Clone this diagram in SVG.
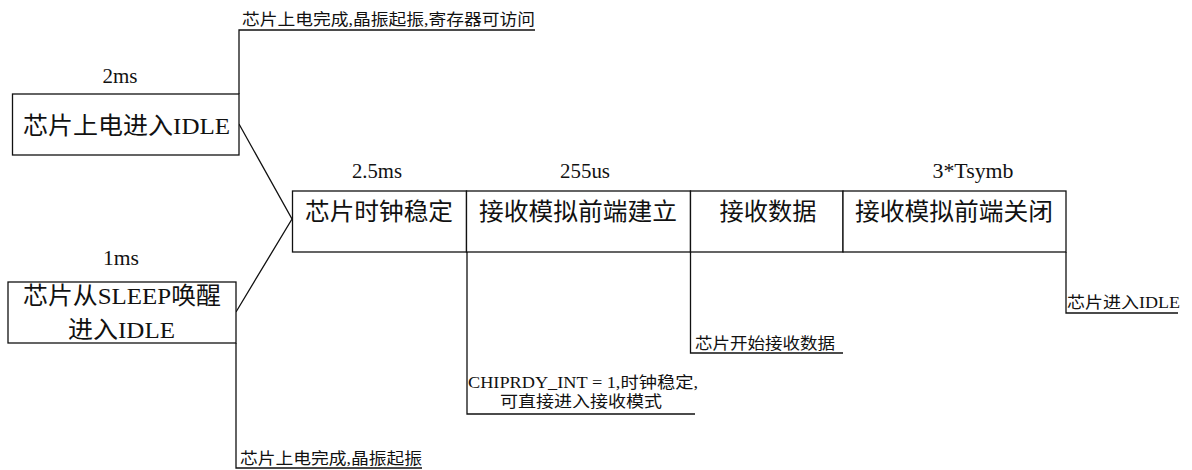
<svg xmlns="http://www.w3.org/2000/svg" width="1192" height="470" viewBox="0 0 1192 470">
<style>
text{font-family:"Liberation Serif","Noto Sans CJK SC",serif;fill:#111;}
.big{font-size:24px;}
.lab{font-size:20px;}
.sm{font-size:16px;}
.box{fill:#fff;stroke:#111;stroke-width:1.3;}
.ln{fill:none;stroke:#111;stroke-width:1.3;}
</style>
<rect width="1192" height="470" fill="#fff"/>
<g id="connectors">
<path class="ln" d="M239,124 L292,219 L236,312"/>
<path class="ln" d="M239,94 V30 H535"/>
<path class="ln" d="M236,343 V468 H422"/>
<path class="ln" d="M467,252 V414 H695"/>
<path class="ln" d="M690.5,252 V353 H843"/>
<path class="ln" d="M1066,252 V313 H1178"/>
</g>
<g id="power-on">
<rect class="box" x="12.5" y="94" width="226.5" height="61"/>
<text class="lab" x="120" y="83" text-anchor="middle" textLength="35" lengthAdjust="spacingAndGlyphs">2ms</text>
<text class="big" x="23" y="134" textLength="207" lengthAdjust="spacingAndGlyphs">芯片上电进入IDLE</text>
</g>
<g id="sleep-wake">
<rect class="box" x="8" y="282" width="228" height="61"/>
<text class="lab" x="121" y="265" text-anchor="middle" textLength="36" lengthAdjust="spacingAndGlyphs">1ms</text>
<text class="big" x="23" y="304" textLength="198" lengthAdjust="spacingAndGlyphs">芯片从SLEEP唤醒</text>
<text class="big" x="68" y="338" textLength="107" lengthAdjust="spacingAndGlyphs">进入IDLE</text>
</g>
<g id="clock-stable">
<rect class="box" x="292.5" y="191" width="174" height="61"/>
<text class="lab" x="377" y="178" text-anchor="middle" textLength="50" lengthAdjust="spacingAndGlyphs">2.5ms</text>
<text class="big" x="379" y="220" text-anchor="middle" textLength="148" lengthAdjust="spacingAndGlyphs">芯片时钟稳定</text>
</g>
<g id="rx-frontend-setup">
<rect class="box" x="466.5" y="191" width="224" height="61"/>
<text class="lab" x="585" y="178" text-anchor="middle" textLength="50" lengthAdjust="spacingAndGlyphs">255us</text>
<text class="big" x="578" y="220" text-anchor="middle" textLength="198" lengthAdjust="spacingAndGlyphs">接收模拟前端建立</text>
</g>
<g id="rx-data">
<rect class="box" x="690.5" y="191" width="152.5" height="61"/>
<text class="big" x="768" y="220" text-anchor="middle" textLength="97" lengthAdjust="spacingAndGlyphs">接收数据</text>
</g>
<g id="rx-frontend-close">
<rect class="box" x="843" y="191" width="223" height="61"/>
<text class="lab" x="973" y="178" text-anchor="middle" textLength="81" lengthAdjust="spacingAndGlyphs">3*Tsymb</text>
<text class="big" x="954" y="220" text-anchor="middle" textLength="198" lengthAdjust="spacingAndGlyphs">接收模拟前端关闭</text>
</g>
<g id="note-registers">
<text class="sm" x="242" y="25" textLength="293" lengthAdjust="spacingAndGlyphs">芯片上电完成,晶振起振,寄存器可访问</text>
</g>
<g id="note-crystal">
<text class="sm" x="240" y="464" textLength="182" lengthAdjust="spacingAndGlyphs">芯片上电完成,晶振起振</text>
</g>
<g id="note-chiprdy">
<text class="sm" x="468" y="388" textLength="230" lengthAdjust="spacingAndGlyphs">CHIPRDY_INT = 1,时钟稳定,</text>
<text class="sm" x="581" y="407" text-anchor="middle" textLength="162" lengthAdjust="spacingAndGlyphs">可直接进入接收模式</text>
</g>
<g id="note-rx-start">
<text class="sm" x="695" y="349" textLength="140" lengthAdjust="spacingAndGlyphs">芯片开始接收数据</text>
</g>
<g id="note-idle">
<text class="sm" x="1067" y="308" textLength="113" lengthAdjust="spacingAndGlyphs">芯片进入IDLE</text>
</g>
</svg>
